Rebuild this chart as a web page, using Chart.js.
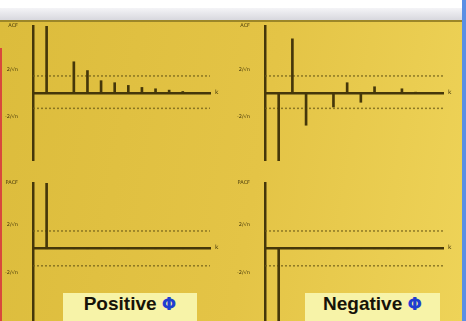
<!DOCTYPE html>
<html>
<head>
<meta charset="utf-8">
<script src="https://cdn.jsdelivr.net/npm/chart.js@4.4.1/dist/chart.umd.min.js"></script>
<style>
    body { margin: 0; background: #fff; }
    #page { position: relative; width: 466px; height: 321px; overflow: hidden; background: #fff; }
    #strip { position: absolute; left: 0; top: 8px; width: 466px; height: 13px;
             background: linear-gradient(#f4f4f7, #d6d6dc); }
    #panel { position: absolute; left: 0; top: 20px; width: 462px; height: 301px;
             border-top: 2px solid #9c8628;
             background: linear-gradient(100deg, #dcbc3c 0%, #e4c446 55%, #eed358 100%); }
    #redEdge { position: absolute; left: 0; top: 48px; width: 2px; height: 273px; background: #d8483c; }
    #blueEdge { position: absolute; left: 462px; top: 0; width: 4px; height: 321px; background: #5b8fe4; }
    canvas { position: absolute; }
    .tag { position: absolute; top: 293px; height: 28px; line-height: 28px; text-align: center;
           background: #f7f3a8; font: bold 19px "Liberation Sans", Arial, sans-serif; color: #161208; }
    .phi { color: #1f3fd0; font-family: "DejaVu Sans", sans-serif; font-size: 17px; }
</style>
</head>
<body>
<div id="page">
    <div id="strip"></div>
    <div id="panel"></div>
    <div id="redEdge"></div>
    <div id="blueEdge"></div>
    <canvas id="acf-positive" width="233" height="139" style="left:0;top:22px"></canvas>
    <canvas id="acf-negative" width="233" height="139" style="left:233px;top:22px"></canvas>
    <canvas id="pacf-positive" width="233" height="159" style="left:0;top:162px"></canvas>
    <canvas id="pacf-negative" width="233" height="159" style="left:233px;top:162px"></canvas>
    <div class="tag" style="left:63px;width:134px">Positive <span class="phi">Φ</span></div>
    <div class="tag" style="left:305px;width:135px">Negative <span class="phi">Φ</span></div>
</div>

<script>
// lags and correlations (lag 0 at the vertical axis)
var lags = [1, 2, 3, 4, 5, 6, 7, 8, 9, 10, 11];
var acfPositive = [1.0, 0, 0.47, 0.34, 0.19, 0.16, 0.12, 0.09, 0.07, 0.05, 0.03];
var acfNegative = [-1.0, 0.81, -0.47, 0, -0.2, 0.16, -0.13, 0.1, 0, 0.07, 0.02];
var pacfPositive = [1.0, 0, 0, 0, 0, 0, 0, 0, 0, 0, 0];
var pacfNegative = [-1.1, 0, 0, 0, 0, 0, 0, 0, 0, 0, 0];

// dotted confidence bounds
var acfBounds = [0.26, -0.22];
var pacfBounds = [0.27, -0.26];

// y tick labels
var acfTicks = [1, 0.35, -0.35];
var acfTickLabels = ['ACF', '2/√n', '-2/√n'];
var pacfTicks = [1, 0.36, -0.37];
var pacfTickLabels = ['PACF', '2/√n', '-2/√n'];
var lagAxisLabel = 'k';
var maxLag = 13;

var ink = '#45370a';
var dotColor = 'rgba(110,92,24,0.75)';

// small "k" at the end of the lag axis
var kLabel = {
    id: 'kLabel',
    afterDraw: function (chart) {
        var c = chart.ctx;
        var xs = chart.scales.x;
        var ys = chart.scales.y;
        c.save();
        c.fillStyle = ink;
        c.font = '6px "DejaVu Sans"';
        c.textBaseline = 'middle';
        c.fillText(lagAxisLabel, xs.right + 5, ys.getPixelForValue(0) - 1);
        c.restore();
    }
};

function makeChart(canvasId, values, bounds, ticks, tickLabels, yMin, yAxisWidth, pad) {
    var ctx = document.getElementById(canvasId);

    var bars = lags.map(function (k, i) { return {x: k, y: values[i]}; });
    var boundSets = bounds.map(function (b) {
        return {
            type: 'line',
            data: [{x: 0, y: b}, {x: maxLag, y: b}],
            borderColor: dotColor,
            borderWidth: 1.5,
            borderDash: [2, 2],
            pointRadius: 0,
            fill: false
        };
    });

    // Chart Data
    var chartData = {
        datasets: [{
            type: 'bar',
            data: bars,
            backgroundColor: ink,
            borderWidth: 0,
            barThickness: 2
        }].concat(boundSets)
    };

    var config = {
        type: 'bar',
        data: chartData,
        options: {
            responsive: false,
            animation: false,
            layout: {padding: pad},
            plugins: {legend: {display: false}, tooltip: {enabled: false}},
            scales: {
                x: {
                    type: 'linear', min: 0, max: maxLag, offset: false,
                    position: {y: 0},
                    grid: {display: false},
                    ticks: {display: false},
                    border: {color: ink, width: 2.5}
                },
                y: {
                    min: yMin, max: 1,
                    grid: {display: false},
                    border: {color: ink, width: 2.5},
                    afterBuildTicks: function (s) {
                        s.ticks = ticks.map(function (v) { return {value: v}; });
                    },
                    afterFit: function (s) {
                        s.width = yAxisWidth;
                        s.paddingTop = 0;
                        s.paddingBottom = 0;
                    },
                    ticks: {
                        padding: 7,
                        color: ink,
                        font: {size: 5, family: 'DejaVu Sans'},
                        callback: function (v, i) { return tickLabels[i]; }
                    }
                }
            }
        },
        plugins: [kLabel]
    };

    return new Chart(ctx, config);
}

makeChart('acf-positive', acfPositive, acfBounds, acfTicks, acfTickLabels, -1, 33, {top: 4, right: 23, bottom: 0, left: 0});
makeChart('acf-negative', acfNegative, acfBounds, acfTicks, acfTickLabels, -1, 32, {top: 4, right: 23, bottom: 0, left: 0});
makeChart('pacf-positive', pacfPositive, pacfBounds, pacfTicks, pacfTickLabels, -1.1, 33, {top: 21, right: 23, bottom: 0, left: 0});
makeChart('pacf-negative', pacfNegative, pacfBounds, pacfTicks, pacfTickLabels, -1.1, 32, {top: 21, right: 23, bottom: 0, left: 0});
</script>
</body>
</html>
